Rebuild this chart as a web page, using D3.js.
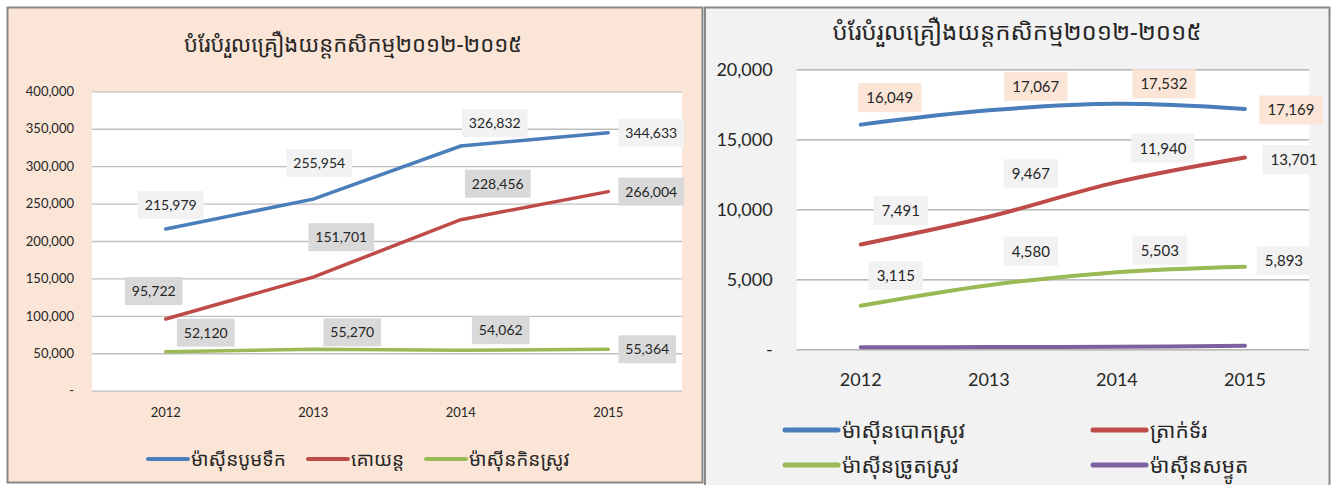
<!DOCTYPE html>
<html><head><meta charset="utf-8">
<script src="https://cdn.jsdelivr.net/npm/d3@7"></script>
<style>
body{margin:0;background:#fff;}
svg{display:block;}
.num{font-family:Lato,"Liberation Sans",sans-serif;fill:#262626;}
.kh{font-family:"Khmer OS Siemreap","Khmer OS","Noto Sans Khmer","Noto Serif Khmer",sans-serif;fill:#262626;}
</style></head>
<body>
<svg id="c" width="1335" height="485"></svg>
<script>
const title = "បំរែបំរួលគ្រឿងយន្តកសិកម្ម២០១២-២០១៥";
const years = ["2012", "2013", "2014", "2015"];

// Left chart
const leftSeries = ["ម៉ាស៊ីនបូមទឹក", "គោយន្ត", "ម៉ាស៊ីនកិនស្រូវ"];
const pumpValues = [215979, 255954, 326832, 344633];
const tractorValues = [95722, 151701, 228456, 266004];
const millValues = [52120, 55270, 54062, 55364];
const leftTicks = [0, 50000, 100000, 150000, 200000, 250000, 300000, 350000, 400000];

// Right chart
const rightSeries = ["ម៉ាស៊ីនបោកស្រូវ", "ត្រាក់ទ័រ", "ម៉ាស៊ីនច្រូតស្រូវ", "ម៉ាស៊ីនសម្ទូត"];
const thresherValues = [16049, 17067, 17532, 17169];
const bigTractorValues = [7491, 9467, 11940, 13701];
const harvesterValues = [3115, 4580, 5503, 5893];
const sprayerValues = [150, 160, 180, 250];
const rightTicks = [0, 5000, 10000, 15000, 20000];

// styling / label placement (not data)
const colors = ["#4A7EBB", "#BE4B48", "#98B954", "#7D60A0"];
const leftLabelOffsets = [
  [[5,-24],[6,-36],[34,-23],[43,0]],
  [[-12,-28],[28,-40],[37,-36],[43,0]],
  [[40,-19],[39,-17],[40,-20],[39,0]]
];
const leftLabelFill = ["#F2F2F2", "#D9D9D9", "#D9D9D9"];
const rightLabelOffsets = [
  [[29,-27],[47,-24],[47,-20],[46,1]],
  [[40,-34],[42,-43],[46,-34],[49,2]],
  [[35,-30],[42,-34],[43,-22],[39,-6]]
];
const rightLabelFill = ["#FBE5D6", "#F2F2F2", "#F2F2F2"];

const fmt = d3.format(",");
const svg = d3.select("#c");

// ---------- LEFT PANEL ----------
(function(){
  const g = svg.append("g");
  g.append("rect").attr("x",7.5).attr("y",7.5).attr("width",695).attr("height",475)
    .attr("fill","#FBE5D6").attr("stroke","#888").attr("stroke-width",2);
  g.append("text").attr("class","kh").attr("x",353).attr("y",52).attr("text-anchor","middle")
    .attr("font-size",22).text(title);

  const x = d3.scaleBand().domain(years).range([92, 682]);
  const y = d3.scaleLinear().domain([0, 400000]).range([390.7, 91.3]);
  g.append("rect").attr("x",92).attr("y",91.3).attr("width",590).attr("height",299.4).attr("fill","#fff");

  const yAxis = g.append("g").attr("transform","translate(92,0)")
    .call(d3.axisLeft(y).tickValues(leftTicks).tickSize(-590).tickFormat(d => d===0 ? "-" : fmt(d)));
  yAxis.select(".domain").remove();
  yAxis.selectAll(".tick line").attr("stroke","#BFBFBF").attr("stroke-width",1.3);
  yAxis.selectAll(".tick text").attr("class","num").attr("font-size",13).attr("x",-18)
    .attr("fill","#262626");

  const xAxis = g.append("g").attr("transform","translate(0,390.7)")
    .call(d3.axisBottom(x).tickSize(0));
  xAxis.select(".domain").remove();
  xAxis.selectAll(".tick text").attr("class","num").attr("font-size",13).attr("dy",0).attr("y",26);

  const data = [pumpValues, tractorValues, millValues];
  const line = d3.line().x((d,i)=>x(years[i])+x.bandwidth()/2).y(d=>y(d));
  data.forEach((vals, s) => {
    g.append("path").attr("d", line(vals)).attr("fill","none").attr("stroke",colors[s])
      .attr("stroke-width",3.5).attr("stroke-linecap","round");
  });
  data.forEach((vals, s) => {
    vals.forEach((v, i) => {
      const cx = x(years[i]) + x.bandwidth()/2 + leftLabelOffsets[s][i][0];
      const cy = y(v) + leftLabelOffsets[s][i][1];
      const t = fmt(v);
      const w = t.length * 8.1 + 9;
      g.append("rect").attr("x",cx-w/2).attr("y",cy-14).attr("width",w).attr("height",28).attr("fill",leftLabelFill[s]);
      g.append("text").attr("class","num").attr("x",cx).attr("y",cy+5).attr("text-anchor","middle")
        .attr("font-size",14).text(t);
    });
  });

  // legend
  const lx = [148, 308, 426];
  leftSeries.forEach((name, s) => {
    g.append("line").attr("x1",lx[s]).attr("x2",lx[s]+40).attr("y1",459).attr("y2",459)
      .attr("stroke",colors[s]).attr("stroke-width",4).attr("stroke-linecap","round");
    g.append("text").attr("class","kh").attr("x",lx[s]+43).attr("y",466).attr("font-size",19).text(name);
  });
})();

// ---------- RIGHT PANEL ----------
(function(){
  const g = svg.append("g");
  g.append("rect").attr("x",705).attr("y",7.5).attr("width",624.5).attr("height",485)
    .attr("fill","#F2F2F2").attr("stroke","#888").attr("stroke-width",2);
  g.append("text").attr("class","kh").attr("x",1017).attr("y",40).attr("text-anchor","middle")
    .attr("font-size",24).text(title);

  const x = d3.scaleBand().domain(years).range([796.7, 1309]);
  const y = d3.scaleLinear().domain([0, 20000]).range([349.3, 69.3]);
  g.append("rect").attr("x",796.7).attr("y",69.3).attr("width",512.3).attr("height",280).attr("fill","#fff");

  const yAxis = g.append("g").attr("transform","translate(796.7,0)")
    .call(d3.axisLeft(y).tickValues(rightTicks).tickSize(-512.3).tickFormat(d => d===0 ? "-" : fmt(d)));
  yAxis.select(".domain").remove();
  yAxis.selectAll(".tick line").attr("stroke","#A6A6A6").attr("stroke-width",1.3);
  yAxis.selectAll(".tick text").attr("class","num").attr("font-size",18).attr("x",-24);

  const xAxis = g.append("g").attr("transform","translate(0,349.3)")
    .call(d3.axisBottom(x).tickSize(0));
  xAxis.select(".domain").remove();
  xAxis.selectAll(".tick text").attr("class","num").attr("font-size",18).attr("dy",0).attr("y",37);

  const data = [thresherValues, bigTractorValues, harvesterValues, sprayerValues];
  const line = d3.line().x((d,i)=>x(years[i])+x.bandwidth()/2).y(d=>y(d)).curve(d3.curveCatmullRom.alpha(0.5));
  [3,0,1,2].forEach(s => {
    g.append("path").attr("d", line(data[s])).attr("fill","none").attr("stroke",colors[s])
      .attr("stroke-width",4).attr("stroke-linecap","round");
  });
  [0,1,2].forEach(s => {
    data[s].forEach((v, i) => {
      const cx = x(years[i]) + x.bandwidth()/2 + rightLabelOffsets[s][i][0];
      const cy = y(v) + rightLabelOffsets[s][i][1];
      const t = fmt(v);
      const w = t.length * 8.7 + 11;
      g.append("rect").attr("x",cx-w/2).attr("y",cy-14.5).attr("width",w).attr("height",29).attr("fill",rightLabelFill[s]);
      g.append("text").attr("class","num").attr("x",cx).attr("y",cy+5.5).attr("text-anchor","middle")
        .attr("font-size",15).text(t);
    });
  });

  const pos = [[785,430],[1093,430],[785,465],[1093,465]];
  rightSeries.forEach((name, s) => {
    g.append("line").attr("x1",pos[s][0]).attr("x2",pos[s][0]+53).attr("y1",pos[s][1]).attr("y2",pos[s][1])
      .attr("stroke",colors[s]).attr("stroke-width",5).attr("stroke-linecap","round");
    g.append("text").attr("class","kh").attr("x",pos[s][0]+57).attr("y",pos[s][1]+8).attr("font-size",21).text(name);
  });
})();
</script>
</body></html>
